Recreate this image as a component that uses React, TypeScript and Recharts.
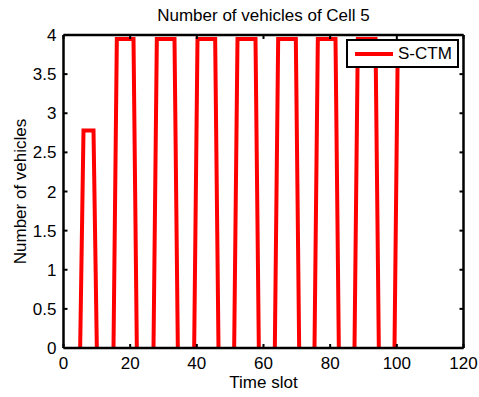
import { LineChart, Line, XAxis, YAxis, ReferenceLine, Legend, Label } from 'recharts';

// each pulse of the S-CTM curve: where it leaves 0, reaches its plateau, leaves it, and is back at 0
const riseFrom = [5, 15, 27, 39.2, 51.2, 63.4, 75.3, 87.3, 99.3];
const riseTo = [6, 16, 28, 40.2, 52.2, 64.4, 76.3, 88.3, 100.3];
const fallFrom = [9, 21, 33.3, 45.5, 57.6, 69.7, 81.6, 93.6, null];
const fallTo = [10, 22, 34.3, 46.5, 58.6, 70.7, 82.6, 94.6, null];
const plateau = [2.78, 3.95, 3.95, 3.95, 3.95, 3.95, 3.95, 3.95, 3.95];
const xTicks = [0, 20, 40, 60, 80, 100, 120];
const yTicks = [0, 0.5, 1, 1.5, 2, 2.5, 3, 3.5, 4];

// the curve sits on the x axis between pulses, where it is hidden by the axis, so leave gaps there
const data: { t: number; n: number | null }[] = [];
riseFrom.forEach((r, i) => {
  if (i > 0) data.push({ t: (r + (fallTo[i - 1] as number)) / 2, n: null });
  data.push({ t: r, n: 0 });
  data.push({ t: riseTo[i], n: plateau[i] });
  if (fallFrom[i] != null) {
    data.push({ t: fallFrom[i] as number, n: plateau[i] });
    data.push({ t: fallTo[i] as number, n: 0 });
  }
});

const FONT = '"Liberation Sans", Arial, Helvetica, sans-serif';
const PLOT_TOP = 35;
const PLOT_RIGHT = 463.5;
const TICK = 4;

function XTick(props: any) {
  const { x, y, payload } = props;
  return (
    <g>
      <line x1={x} y1={y} x2={x} y2={y - TICK} stroke="#000" strokeWidth={2} />
      <line x1={x} y1={PLOT_TOP} x2={x} y2={PLOT_TOP + TICK} stroke="#000" strokeWidth={2} />
      <text x={x} y={y + 21} textAnchor="middle" fontSize={17} fontFamily={FONT} fill="#000">
        {payload.value}
      </text>
    </g>
  );
}

function YTick(props: any) {
  const { x, y, payload } = props;
  return (
    <g>
      <line x1={x} y1={y} x2={x + TICK} y2={y} stroke="#000" strokeWidth={2} />
      <line x1={PLOT_RIGHT} y1={y} x2={PLOT_RIGHT - TICK} y2={y} stroke="#000" strokeWidth={2} />
      <text x={x - 7} y={y + 6} textAnchor="end" fontSize={17} fontFamily={FONT} fill="#000">
        {payload.value}
      </text>
    </g>
  );
}

function LegendBox() {
  return (
    <div
      style={{
        width: 109,
        height: 25,
        border: '2px solid #000',
        background: '#fff',
        display: 'flex',
        alignItems: 'center',
        fontFamily: FONT,
        fontSize: 17,
        color: '#000',
      }}
    >
      <div style={{ width: 38, height: 4, background: '#ff0000', marginLeft: 7, marginRight: 5 }} />
      <span>S-CTM</span>
    </div>
  );
}

export default function App() {
  return (
    <div style={{ position: 'absolute', left: 0, top: 0, width: 479, height: 397, background: '#fff' }}>
      <div
        style={{
          position: 'absolute',
          left: 63.5,
          width: 400,
          top: 6,
          textAlign: 'center',
          fontFamily: FONT,
          fontSize: 17,
          color: '#000',
          lineHeight: '20px',
        }}
      >
        Number of vehicles of Cell 5
      </div>
      <LineChart width={479} height={397} data={data} margin={{ top: 35, right: 15.5, bottom: 0, left: 0 }}>
        <XAxis
          dataKey="t"
          type="number"
          domain={[0, 120]}
          ticks={xTicks}
          height={49}
          tickSize={0}
          tickMargin={0}
          tickLine={false}
          tick={<XTick />}
          axisLine={{ stroke: '#000', strokeWidth: 2.5 }}
          interval={0}
        >
          <Label
            content={(p: any) => {
              const vb = p.viewBox;
              return (
                <text x={vb.x + vb.width / 2} y={vb.y + 40} textAnchor="middle" fontSize={17} fontFamily={FONT} fill="#000">
                  Time slot
                </text>
              );
            }}
          />
        </XAxis>
        <YAxis
          type="number"
          domain={[0, 4]}
          ticks={yTicks}
          width={63.5}
          tickSize={0}
          tickMargin={0}
          tickLine={false}
          tick={<YTick />}
          axisLine={{ stroke: '#000', strokeWidth: 2.5 }}
          interval={0}
        >
          <Label
            content={(p: any) => {
              const vb = p.viewBox;
              const cy = vb.y + vb.height / 2;
              return (
                <text
                  x={26}
                  y={cy}
                  transform={`rotate(-90 26 ${cy})`}
                  textAnchor="middle"
                  fontSize={17}
                  fontFamily={FONT}
                  fill="#000"
                >
                  Number of vehicles
                </text>
              );
            }}
          />
        </YAxis>
        <ReferenceLine y={4} stroke="#000" strokeWidth={2.5} />
        <ReferenceLine x={120} stroke="#000" strokeWidth={2.5} />
        <Line
          type="linear"
          dataKey="n"
          name="S-CTM"
          stroke="#ff0000"
          strokeWidth={4}
          dot={false}
          activeDot={false}
          connectNulls={false}
          isAnimationActive={false}
        />
        <Legend
          layout="horizontal"
          verticalAlign="middle"
          align="center"
          content={() => <LegendBox />}
          wrapperStyle={{ position: 'absolute', left: 346, top: 39, width: 'auto' }}
        />
      </LineChart>
    </div>
  );
}
